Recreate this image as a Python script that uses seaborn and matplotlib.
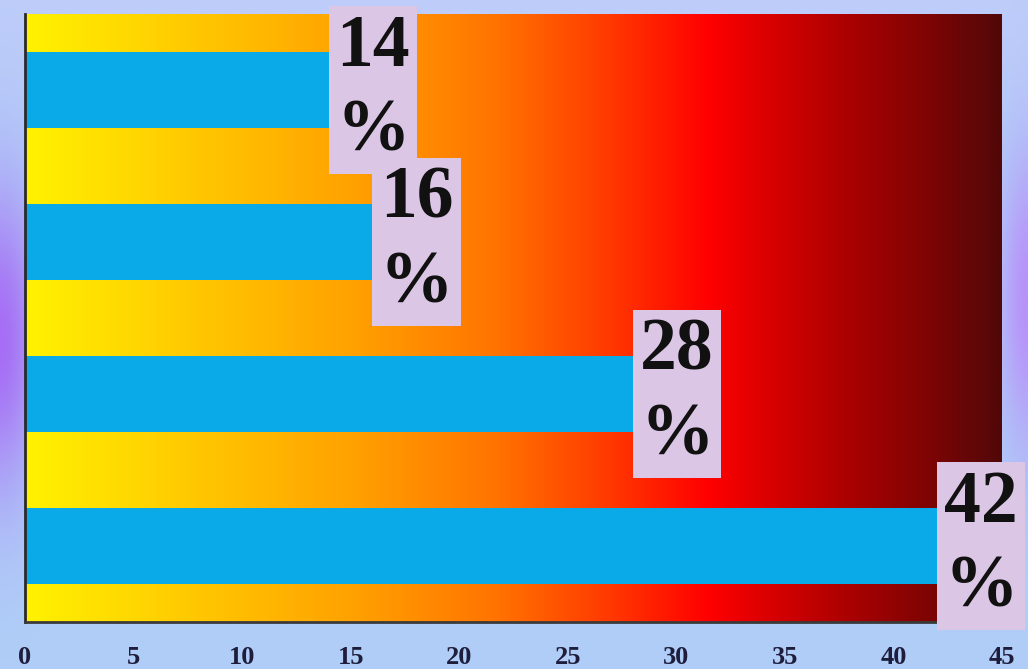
import numpy as np
import matplotlib
matplotlib.use("Agg")
import matplotlib.pyplot as plt
from matplotlib.colors import LinearSegmentedColormap
import seaborn as sns

# Data
rows = ["A", "B", "C", "D"]
shares = [14, 16, 28, 42]
x_ticks = [0, 5, 10, 15, 20, 25, 30, 35, 40, 45]

sns.set_theme(style="white")
plt.rcParams["font.family"] = ["Liberation Serif", "DejaVu Serif"]

W, H, DPI = 1028, 669, 100
fig = plt.figure(figsize=(W / DPI, H / DPI), dpi=DPI)

# Soft blue page background with violet glows at the sides
yy, xx = np.mgrid[0:H, 0:W].astype(float)
base = np.array([176, 206, 248], float)
bg = np.ones((H, W, 3)) * base
top_tint = np.exp(-(yy / 120.0) ** 2)[..., None]
bg = bg * (1 - 0.6 * top_tint) + np.array([198, 204, 250]) * 0.6 * top_tint
left = np.exp(-((xx - 0) / 40.0) ** 2 - ((yy - 340) / 150.0) ** 2)[..., None]
bg = bg * (1 - left) + np.array([166, 110, 245]) * left
right = np.exp(-((xx - W) / 28.0) ** 2 - ((yy - 300) / 150.0) ** 2)[..., None]
bg = bg * (1 - 0.85 * right) + np.array([185, 135, 250]) * 0.85 * right
bg_ax = fig.add_axes([0, 0, 1, 1], zorder=-10)
bg_ax.imshow(bg.astype(np.uint8), aspect="auto", extent=(0, 1, 0, 1))
bg_ax.axis("off")

ax = fig.add_axes([25 / W, 1 - 622 / H, (1002 - 25) / W, (622 - 14) / H])

# Horizontal heat gradient behind the bars
heat = LinearSegmentedColormap.from_list(
    "heat",
    [(0.00, "#fff200"), (0.18, "#ffc600"), (0.34, "#ffa000"),
     (0.48, "#ff7400"), (0.60, "#ff3800"), (0.70, "#ff0000"),
     (0.82, "#b80000"), (0.92, "#820404"), (1.00, "#520808")])
grad = np.linspace(0, 1, 512)[None, :]
ax.imshow(grad, cmap=heat, aspect="auto", extent=(0, 45, 3.5, -0.5), zorder=0)

sns.barplot(x=shares, y=rows, orient="h", color="#0aaae8", width=0.5,
            saturation=1, ax=ax, zorder=2, edgecolor="none", linewidth=0)

ax.set_xlim(0, 45)
ax.set_ylim(3.5, -0.5)
ax.set_xticks(x_ticks)
ax.set_xticklabels([str(t) for t in x_ticks], fontsize=19, fontweight="bold",
                   color="#1e1e3c")
ax.set_yticks([])
ax.set_xlabel("")
ax.set_ylabel("")
ax.tick_params(axis="x", length=0, pad=17)
for s in ["top", "right"]:
    ax.spines[s].set_visible(False)
ax.spines["left"].set_color("#2a2a2a")
ax.spines["left"].set_linewidth(2)
ax.spines["bottom"].set_color("#3a3a3a")
ax.spines["bottom"].set_linewidth(2)

# Value labels in lavender boxes at the end of each bar
fs = 53
for i, v in enumerate(shares):
    ax.annotate(f"{v}\n%", xy=(v, i), xytext=(0.1 * fs, 0),
                textcoords="offset points", ha="left", va="center",
                fontsize=fs, fontweight="bold", color="#111111",
                linespacing=1.32, multialignment="center", zorder=5,
                annotation_clip=False,
                bbox=dict(boxstyle="square,pad=0.1", fc="#dcc6e6", ec="none"))

fig.savefig("out.png", dpi=DPI)
